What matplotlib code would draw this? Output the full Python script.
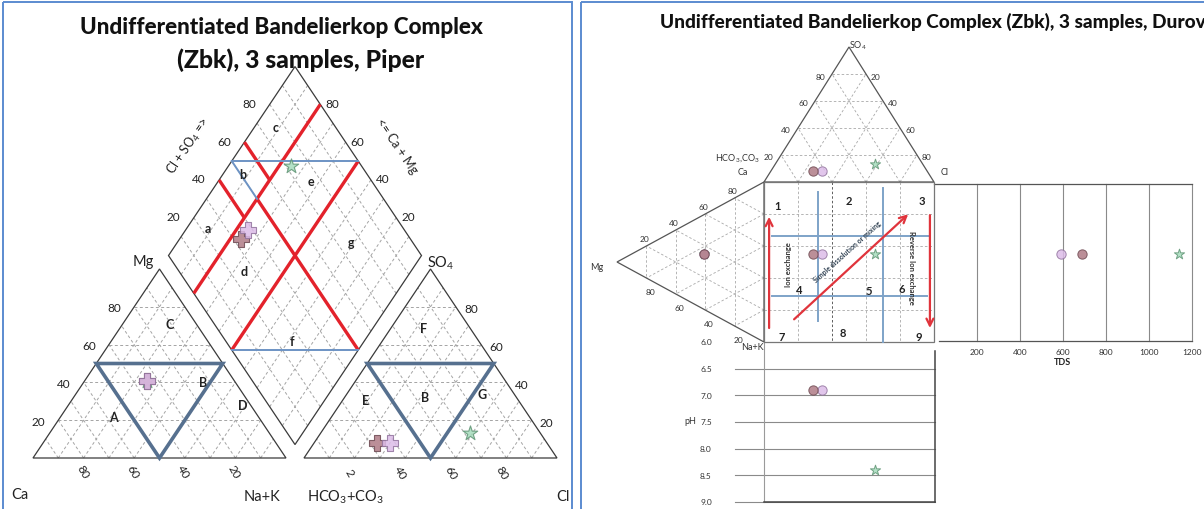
import matplotlib
matplotlib.use("Agg")
import matplotlib.pyplot as plt
from matplotlib.patches import Polygon, Rectangle

plt.rcParams['font.family'] = ['Lato', 'DejaVu Sans']
plt.rcParams['mathtext.fontset'] = 'custom'
plt.rcParams['mathtext.rm'] = 'Lato'

# --- sample chemistry (% of meq) plus pH and TDS (mg/l) ---
sample_ids = ["Zbk-1", "Zbk-2", "Zbk-3"]
ca = [34.5, 34.5, 34.5]
mg = [41.0, 41.0, 41.0]
na_k = [24.5, 24.5, 24.5]
hco3 = [67.0, 62.0, 28.0]
so4 = [8.0, 8.0, 13.0]
cl = [25.0, 30.0, 59.0]
ph = [6.9, 6.9, 8.4]
tds = [690, 590, 1140]

pct_ticks = [20, 40, 60, 80]
ph_ticks = [6.0, 6.5, 7.0, 7.5, 8.0, 8.5, 9.0]
tds_ticks = [200, 400, 600, 800, 1000, 1200]

# marker styles per sample
piper_mark = ["P", "P", "*"]
durov_mark = ["o", "o", "*"]
fill = ["#b07c86", "#dcbce8", "#a6dcbc"]
rim = ["#6e4a52", "#92749e", "#5f9474"]
piper_order = [2, 0, 1]
durov_order = [2, 1, 0]

fig = plt.figure(figsize=(12.04, 5.10), dpi=100)
ax = fig.add_axes([0, 0, 1, 1])
ax.set_xlim(0, 1204)
ax.set_ylim(510, 0)
ax.axis("off")

grid = dict(color="#a4a4a4", lw=0.7, ls=(0, (3, 2.5)), zorder=1)
red = dict(color="#e3222b", lw=2.4, zorder=4, solid_capstyle="butt")
ink = "#222222"


def seg(p, q, **kw):
    ax.plot([p[0], q[0]], [p[1], q[1]], **kw)


def poly(pts, **kw):
    ax.add_patch(Polygon(pts, closed=True, fill=False, **kw))


# ================= PIPER =================
PX0, PY0, PL, PH, PG = 33.0, 459.0, 253.0, 189.0, 18.0
AX0 = PX0 + PL + PG


def tri_pt(x0, right, top):
    return x0 + PL * (right + top / 2), PY0 - PH * top


def dia_pt(n, b):
    # n: Na+K fraction, b: Cl+SO4 fraction
    t = 1 + PG / PL + b - n
    return PX0 + PL * n + t * PL / 2, PY0 - t * PH


tenths = [i / 10 for i in range(1, 10)]
fifths = [v / 100 for v in pct_ticks]

for x0 in (PX0, AX0):
    for v in tenths:
        seg(tri_pt(x0, v, 0), tri_pt(x0, v, 1 - v), **grid)
        seg(tri_pt(x0, 1 - v, 0), tri_pt(x0, 0, 1 - v), **grid)
    for v in fifths:
        seg(tri_pt(x0, 0, v), tri_pt(x0, 1 - v, v), **grid)
    poly([tri_pt(x0, 0, 0), tri_pt(x0, 1, 0), tri_pt(x0, 0, 1)], ec="#3a3a3a", lw=0.9, zorder=3)
    poly([tri_pt(x0, 0, 0.5), tri_pt(x0, 0.5, 0.5), tri_pt(x0, 0.5, 0)],
         ec="#56708f", lw=2.6, zorder=4, joinstyle="miter")

for v in tenths:
    seg(dia_pt(v, 0), dia_pt(v, 1), **grid)
    seg(dia_pt(0, v), dia_pt(1, v), **grid)
poly([dia_pt(0, 0), dia_pt(0, 1), dia_pt(1, 1), dia_pt(1, 0)], ec="#3a3a3a", lw=0.9, zorder=3)

# classification lines in the diamond
seg(dia_pt(0.2, 0), dia_pt(0.2, 1), **red)
seg(dia_pt(0.5, 0), dia_pt(0.5, 1), **red)
seg(dia_pt(0.2, 0.5), dia_pt(1, 0.5), **red)
seg(dia_pt(0, 0.6), dia_pt(0.2, 0.6), **red)
seg(dia_pt(0, 0.4), dia_pt(0.2, 0.4), **red)
blue_thin = dict(color="#6d93c4", lw=1.4, zorder=4)
seg(dia_pt(0, 0.5), dia_pt(0.5, 1), **blue_thin)
seg(dia_pt(0, 0.5), dia_pt(0.2, 0.5), **blue_thin)
seg(dia_pt(0.5, 0), dia_pt(1, 0.5), **blue_thin)

# tick labels
for v in pct_ticks:
    f = v / 100
    x, y = tri_pt(PX0, 0, f)
    ax.text(x - 20, y + 1, str(v), fontsize=8.5, color=ink, ha="center", va="center")
    x, y = tri_pt(PX0, f, 0)
    ax.text(x - 1, y + 13, str(100 - v), fontsize=8.5, color=ink, ha="center", va="center", rotation=-60)
    x, y = tri_pt(AX0, 1 - f, f)
    ax.text(x + 15, y + 2, str(v), fontsize=8.5, color=ink, ha="center", va="center")
    x, y = tri_pt(AX0, f, 0)
    ax.text(x - 5, y + 14, "2" if v == 20 else str(v), fontsize=8.5, color=ink,
            ha="center", va="center", rotation=-60)
    x, y = dia_pt(0, f)
    ax.text(x - 20, y - 1, str(v), fontsize=8.5, color=ink, ha="center", va="center")
    x, y = dia_pt(1 - f, 1)
    ax.text(x + 12, y - 1, str(v), fontsize=8.5, color=ink, ha="center", va="center")

ax.text(189, 146, "Cl + SO$_\\mathregular{4}$ =>", fontsize=9, color=ink, rotation=56,
        ha="center", va="center")
ax.text(397, 146, "<= Ca + Mg", fontsize=9, color=ink, rotation=-56, ha="center", va="center")

for txt, x, y in [("Mg", 143, 262), ("SO$_\\mathregular{4}$", 441, 263), ("Ca", 20, 495),
                  ("Na+K", 262, 497), ("HCO$_\\mathregular{3}$+CO$_\\mathregular{3}$", 345, 497),
                  ("Cl", 563, 497)]:
    ax.text(x, y, txt, fontsize=10.5, color=ink, ha="center", va="center")

for txt, x, y in [("C", 170, 325), ("B", 203, 383), ("A", 113, 418), ("D", 243, 406),
                  ("F", 424, 329), ("E", 366, 401), ("B", 425, 398), ("G", 482, 395),
                  ("a", 208, 229), ("b", 243, 175), ("c", 276, 128), ("d", 244, 272),
                  ("e", 311, 182), ("f", 292, 342), ("g", 351, 243)]:
    ax.text(x, y, txt, fontsize=9, fontweight="bold", color=ink, ha="center", va="center", zorder=5)

# samples on the Piper
for i in piper_order:
    kw = dict(marker=piper_mark[i], s=130 if piper_mark[i] == "P" else 120, c=fill[i],
              edgecolors=rim[i], linewidths=0.8, alpha=0.85, zorder=6)
    x, y = tri_pt(PX0, na_k[i] / 100, mg[i] / 100)
    ax.scatter([x], [y], **kw)
    x, y = tri_pt(AX0, cl[i] / 100, so4[i] / 100)
    ax.scatter([x], [y], **kw)
    x, y = dia_pt(na_k[i] / 100, (cl[i] + so4[i]) / 100)
    ax.scatter([x], [y], **kw)

t1 = ax.text(281, 27, "Undifferentiated Bandelierkop Complex", fontsize=15.5,
             fontweight="black", color="#111111", ha="center", va="center")
t2 = ax.text(301, 60, "(Zbk), 3 samples, Piper", fontsize=15.5,
             fontweight="black", color="#111111", ha="center", va="center")

# ================= DUROV =================
DX0, DX1, DY0, DY1 = 764.0, 934.0, 183.0, 343.0
DW, DH = DX1 - DX0, DY1 - DY0
TOP_H, LEFT_W = 135.0, 147.0
TDS_X1 = 1192.0


def durov_top(cl_f, so4_f):
    return DX0 + DW * (cl_f + so4_f / 2), DY0 - TOP_H * so4_f


def durov_left(na_f, mg_f):
    return DX0 - LEFT_W * mg_f, DY0 + DH * (na_f + mg_f / 2)


def ph_y(p):
    return DY1 + (p - ph_ticks[0]) * DH / (ph_ticks[-1] - ph_ticks[0])


def tds_x(v):
    return DX1 + v * (TDS_X1 - DX1) / tds_ticks[-1]


dgrid = dict(color="#a8a8a8", lw=0.6, ls=(0, (3, 2.5)), zorder=1)
for v in fifths:
    seg(durov_top(0, v), durov_top(1 - v, v), **dgrid)
    seg(durov_top(v, 0), durov_top(v, 1 - v), **dgrid)
    seg(durov_top(1 - v, 0), durov_top(0, 1 - v), **dgrid)
    seg(durov_left(0, v), durov_left(1 - v, v), **dgrid)
    seg(durov_left(v, 0), durov_left(v, 1 - v), **dgrid)
    seg(durov_left(1 - v, 0), durov_left(0, 1 - v), **dgrid)
    sq = dict(dgrid)
    if v == 0.4:
        sq.update(color="#444444")
    seg((DX0 + DW * v, DY0), (DX0 + DW * v, DY1), **sq)
    seg((DX0, DY0 + DH * v), (DX1, DY0 + DH * v), **dgrid)

poly([durov_top(0, 0), durov_top(1, 0), durov_top(0, 1)], ec="#555555", lw=0.9, zorder=3)
poly([durov_left(0, 0), durov_left(1, 0), durov_left(0, 1)], ec="#555555", lw=0.9, zorder=3)
ax.add_patch(Rectangle((DX0, DY0), DW, DH, fill=False, ec="#777777", lw=0.9, zorder=3))

# field boundaries
bl = dict(color="#7ea3c8", lw=1.4, zorder=4)
fields = [0.32, 0.70]
seg((DX0 + DW * fields[0], DY0 + DH * 0.06), (DX0 + DW * fields[0], DY0 + DH * 0.87), **bl)
seg((DX0 + DW * fields[1], DY0 + DH * 0.04), (DX0 + DW * fields[1], DY1), **bl)
seg((DX0 + DW * 0.045, DY0 + DH * 0.335), (DX0 + DW * 0.976, DY0 + DH * 0.335), **bl)
seg((DX0 + DW * 0.045, DY0 + DH * 0.71), (DX0 + DW * 0.96, DY0 + DH * 0.71), **bl)

arrow = dict(arrowstyle="->,head_length=0.5,head_width=0.25", color="#e0343c", lw=1.6)
ax.annotate("", xy=(DX0 + DW * 0.03, DY0 + DH * 0.2), xytext=(DX0 + DW * 0.03, DY0 + DH * 0.93),
            arrowprops=arrow, zorder=5)
ax.annotate("", xy=(DX0 + DW * 0.976, DY0 + DH * 0.93), xytext=(DX0 + DW * 0.976, DY0 + DH * 0.19),
            arrowprops=arrow, zorder=5)
ax.annotate("", xy=(DX0 + DW * 0.86, DY0 + DH * 0.19), xytext=(DX0 + DW * 0.165, DY0 + DH * 0.87),
            arrowprops=arrow, zorder=5)
ax.text(788, 265, "Ion exchange", fontsize=5.5, fontweight="bold", color="#333333",
        rotation=90, ha="center", va="center", zorder=6)
ax.text(912, 268, "Reverse Ion exchange", fontsize=5.5, fontweight="bold", color="#333333",
        rotation=-90, ha="center", va="center", zorder=6)
ax.text(847, 252, "Simple dissolution or mixing", fontsize=5, fontweight="bold", color="#334455",
        rotation=42, ha="center", va="center", zorder=6)

for txt, x, y in [("1", 778, 207), ("2", 849, 202), ("3", 922, 202), ("4", 799, 291),
                  ("5", 869, 292), ("6", 902, 290), ("7", 782, 338), ("8", 843, 334),
                  ("9", 919, 338)]:
    ax.text(x, y, txt, fontsize=8, fontweight="bold", color=ink, ha="center", va="center", zorder=6)

dtick = dict(fontsize=6, color="#333333", ha="center", va="center")
for v in pct_ticks:
    f = v / 100
    x, y = durov_top(0, f)
    ax.text(x - 12, y + 2, str(v), **dtick)
    x, y = durov_top(1 - f, f)
    ax.text(x + 10, y + 2, str(100 - v), **dtick)
    x, y = durov_left(0, 1 - f)
    ax.text(x - 2, y - 7, str(v), **dtick)
    x, y = durov_left(1 - f, f)
    ax.text(x + 4, y + 14, str(v), **dtick)

for txt, x, y in [("SO$_\\mathregular{4}$", 858, 46), ("HCO$_\\mathregular{3}$,CO$_\\mathregular{3}$", 737, 158),
                  ("Ca", 743, 173), ("Cl", 945, 173), ("Mg", 597, 268), ("Na+K", 752, 348)]:
    ax.text(x, y, txt, fontsize=6.5, color="#333333", ha="center", va="center")

# pH panel
for p in ph_ticks:
    y = ph_y(p)
    if p > ph_ticks[0]:
        seg((735, y), (DX1 + 1, y), color="#8a8a8a", lw=0.8, zorder=1)
    ax.text(706, y, f"{p:.1f}", **dtick)
ax.text(690, 422, "pH", fontsize=6.5, color="#333333", ha="center", va="center")
seg((DX0, DY1), (DX0, ph_y(9.0)), color="#9a9a9a", lw=0.8)
seg((DX0, ph_y(9.0)), (DX1 + 1, ph_y(9.0)), color="#444444", lw=1.1)
seg((DX1 + 1, DY1 + 9), (DX1 + 1, ph_y(9.0)), color="#444444", lw=1.1)

# TDS panel
seg((DX1, DY0 + 2), (TDS_X1, DY0 + 2), color="#555555", lw=0.9)
seg((DX1 + 5, DY1 - 1), (TDS_X1, DY1 - 1), color="#555555", lw=0.9)
for v in tds_ticks:
    x = tds_x(v)
    seg((x, DY0 + 2), (x, DY1 - 1), color="#8a8a8a", lw=0.8, zorder=1)
    ax.text(x, 353, str(v), **dtick)
ax.text(tds_x(600), 363, "TDS", fontsize=6.5, fontweight="bold", color="#222222", ha="center", va="center")

for i in durov_order:
    kw = dict(marker=durov_mark[i], s=45 if durov_mark[i] == "o" else 60, c=fill[i],
              edgecolors=rim[i], linewidths=0.7, alpha=0.85, zorder=7)
    xa, ya = durov_top(cl[i] / 100, so4[i] / 100)
    xc, yc = durov_left(na_k[i] / 100, mg[i] / 100)
    ax.scatter([xa], [ya], **kw)
    ax.scatter([xc], [yc], **kw)
    ax.scatter([xa], [yc], **kw)
    ax.scatter([xa], [ph_y(ph[i])], **kw)
    ax.scatter([tds_x(tds[i])], [yc], **kw)

t3 = ax.text(660, 22, "Undifferentiated Bandelierkop Complex (Zbk), 3 samples, Durov", fontsize=12.5,
             fontweight="black", color="#111111", ha="left", va="center")

# panel frames
ax.add_patch(Rectangle((3, 3), 569, 520, fill=False, ec="#5b8bd0", lw=1.4, clip_on=False))
ax.add_patch(Rectangle((581, 3), 640, 520, fill=False, ec="#5b8bd0", lw=1.4, clip_on=False))

# fit title widths to the layout
fig.canvas.draw()
r = fig.canvas.get_renderer()
for t, w in [(t1, 405), (t2, 248), (t3, 543)]:
    t.set_fontsize(t.get_fontsize() * w / t.get_window_extent(r).width)

fig.savefig("out.png", dpi=100)
